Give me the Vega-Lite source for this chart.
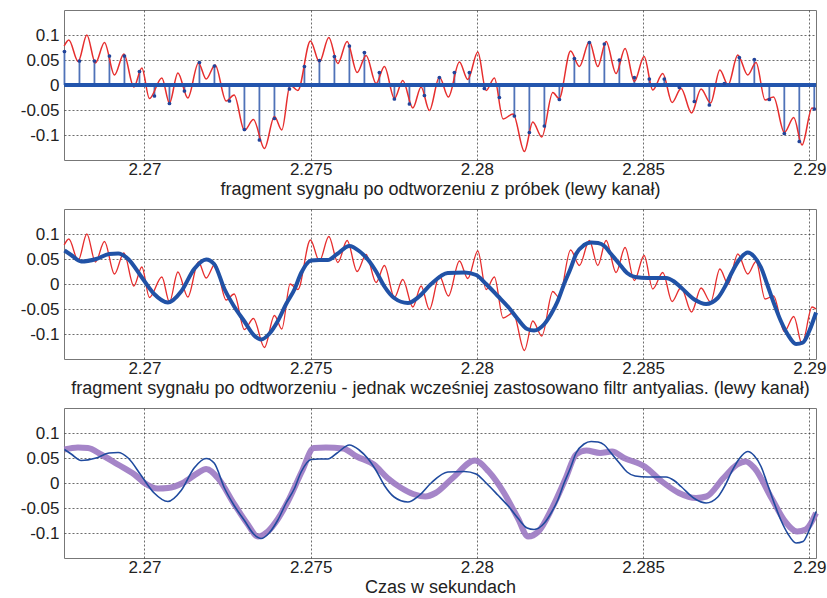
{
  "$schema": "https://vega.github.io/schema/vega-lite/v6.json",
  "padding": {"left": 19, "top": 9, "right": 0, "bottom": 0},
  "spacing": 9,
  "background": "white",
  "datasets": {
    "red": [
      {"t": 2.267585, "v": 0.078}, {"t": 2.267726, "v": 0.09}, {"t": 2.268006, "v": 0.047}, {"t": 2.268268, "v": 0.1},
      {"t": 2.268526, "v": 0.044}, {"t": 2.268797, "v": 0.085}, {"t": 2.269098, "v": 0.02}, {"t": 2.26938, "v": 0.062},
      {"t": 2.269681, "v": -0.004}, {"t": 2.269922, "v": 0.034}, {"t": 2.27015, "v": -0.027}, {"t": 2.270523, "v": 0.014},
      {"t": 2.270752, "v": -0.036}, {"t": 2.271005, "v": 0.024}, {"t": 2.271305, "v": -0.026}, {"t": 2.271624, "v": 0.044},
      {"t": 2.271856, "v": 0.012}, {"t": 2.272126, "v": 0.04}, {"t": 2.272457, "v": -0.032}, {"t": 2.272698, "v": -0.02},
      {"t": 2.273008, "v": -0.091}, {"t": 2.273278, "v": -0.069}, {"t": 2.273609, "v": -0.127}, {"t": 2.27391, "v": -0.063},
      {"t": 2.274132, "v": -0.09}, {"t": 2.274382, "v": 0.0}, {"t": 2.274614, "v": -0.011}, {"t": 2.274993, "v": 0.088},
      {"t": 2.275263, "v": 0.046}, {"t": 2.275546, "v": 0.095}, {"t": 2.275817, "v": 0.043}, {"t": 2.276096, "v": 0.087},
      {"t": 2.276397, "v": 0.025}, {"t": 2.276668, "v": 0.059}, {"t": 2.276968, "v": 0.003}, {"t": 2.277218, "v": 0.037},
      {"t": 2.277519, "v": -0.027}, {"t": 2.277771, "v": 0.009}, {"t": 2.278072, "v": -0.046}, {"t": 2.278322, "v": -0.004},
      {"t": 2.278571, "v": -0.051}, {"t": 2.278872, "v": 0.016}, {"t": 2.279143, "v": -0.024}, {"t": 2.279474, "v": 0.046},
      {"t": 2.279726, "v": 0.011}, {"t": 2.280027, "v": 0.066}, {"t": 2.280277, "v": -0.011}, {"t": 2.280526, "v": 0.014},
      {"t": 2.280788, "v": -0.068}, {"t": 2.281089, "v": -0.058}, {"t": 2.281429, "v": -0.133}, {"t": 2.281681, "v": -0.074},
      {"t": 2.281952, "v": -0.104}, {"t": 2.282283, "v": -0.015}, {"t": 2.282472, "v": -0.027}, {"t": 2.282818, "v": 0.068},
      {"t": 2.283083, "v": 0.037}, {"t": 2.283383, "v": 0.087}, {"t": 2.283636, "v": 0.037}, {"t": 2.283886, "v": 0.087},
      {"t": 2.284186, "v": 0.023}, {"t": 2.284457, "v": 0.073}, {"t": 2.284737, "v": 0.007}, {"t": 2.285029, "v": 0.057},
      {"t": 2.28529, "v": -0.01}, {"t": 2.285591, "v": 0.023}, {"t": 2.285871, "v": -0.035}, {"t": 2.286141, "v": -0.007},
      {"t": 2.286457, "v": -0.056}, {"t": 2.286743, "v": -0.008}, {"t": 2.287029, "v": -0.036}, {"t": 2.287308, "v": 0.03},
      {"t": 2.287555, "v": 0.0}, {"t": 2.287847, "v": 0.06}, {"t": 2.288147, "v": 0.02}, {"t": 2.288397, "v": 0.045},
      {"t": 2.288668, "v": -0.03}, {"t": 2.288923, "v": -0.024}, {"t": 2.289248, "v": -0.095}, {"t": 2.289531, "v": -0.065},
      {"t": 2.28978, "v": -0.12}, {"t": 2.290081, "v": -0.046}, {"t": 2.290202, "v": -0.05}
    ],
    "stems": [
      {"t": 2.267594, "v": 0.067}, {"t": 2.268045, "v": 0.048}, {"t": 2.268496, "v": 0.048}, {"t": 2.268947, "v": 0.058},
      {"t": 2.269398, "v": 0.058}, {"t": 2.26985, "v": 0.027}, {"t": 2.270301, "v": -0.022}, {"t": 2.270752, "v": -0.037},
      {"t": 2.271203, "v": -0.012}, {"t": 2.271654, "v": 0.045}, {"t": 2.272105, "v": 0.038}, {"t": 2.272556, "v": -0.032},
      {"t": 2.273007, "v": -0.089}, {"t": 2.273458, "v": -0.11}, {"t": 2.27391, "v": -0.067}, {"t": 2.274361, "v": -0.008},
      {"t": 2.274812, "v": 0.037}, {"t": 2.275263, "v": 0.049}, {"t": 2.275714, "v": 0.057}, {"t": 2.276165, "v": 0.078},
      {"t": 2.276616, "v": 0.065}, {"t": 2.277067, "v": 0.025}, {"t": 2.277518, "v": -0.028}, {"t": 2.27797, "v": -0.038},
      {"t": 2.278421, "v": -0.021}, {"t": 2.278872, "v": 0.015}, {"t": 2.279323, "v": 0.025}, {"t": 2.279774, "v": 0.025},
      {"t": 2.280225, "v": -0.007}, {"t": 2.280676, "v": -0.025}, {"t": 2.281127, "v": -0.062}, {"t": 2.281578, "v": -0.095},
      {"t": 2.28203, "v": -0.082}, {"t": 2.282481, "v": -0.029}, {"t": 2.282932, "v": 0.053}, {"t": 2.283383, "v": 0.085},
      {"t": 2.283834, "v": 0.082}, {"t": 2.284285, "v": 0.05}, {"t": 2.284736, "v": 0.015}, {"t": 2.285187, "v": 0.012},
      {"t": 2.285638, "v": 0.012}, {"t": 2.28609, "v": -0.005}, {"t": 2.286541, "v": -0.033}, {"t": 2.286992, "v": -0.04},
      {"t": 2.287443, "v": 0.003}, {"t": 2.287894, "v": 0.055}, {"t": 2.288345, "v": 0.051}, {"t": 2.288796, "v": -0.029},
      {"t": 2.289247, "v": -0.097}, {"t": 2.289698, "v": -0.113}, {"t": 2.290149, "v": -0.048}
    ],
    "blue": [
      {"t": 2.267594, "v": 0.067}, {"t": 2.267795, "v": 0.058}, {"t": 2.268096, "v": 0.045}, {"t": 2.268547, "v": 0.05},
      {"t": 2.268938, "v": 0.06}, {"t": 2.269209, "v": 0.061}, {"t": 2.26951, "v": 0.05}, {"t": 2.269901, "v": 0.015},
      {"t": 2.270292, "v": -0.02}, {"t": 2.270704, "v": -0.037}, {"t": 2.271104, "v": -0.015}, {"t": 2.271495, "v": 0.03},
      {"t": 2.271856, "v": 0.049}, {"t": 2.272096, "v": 0.04}, {"t": 2.272406, "v": -0.01}, {"t": 2.272698, "v": -0.045},
      {"t": 2.273008, "v": -0.075}, {"t": 2.273299, "v": -0.103}, {"t": 2.27351, "v": -0.111}, {"t": 2.27375, "v": -0.1},
      {"t": 2.274012, "v": -0.074}, {"t": 2.274262, "v": -0.04}, {"t": 2.274511, "v": -0.011}, {"t": 2.274713, "v": 0.022},
      {"t": 2.275014, "v": 0.047}, {"t": 2.275254, "v": 0.048}, {"t": 2.275516, "v": 0.048}, {"t": 2.275795, "v": 0.06},
      {"t": 2.276165, "v": 0.076}, {"t": 2.276457, "v": 0.066}, {"t": 2.276719, "v": 0.049}, {"t": 2.276968, "v": 0.025},
      {"t": 2.277218, "v": -0.005}, {"t": 2.27751, "v": -0.028}, {"t": 2.277922, "v": -0.038}, {"t": 2.278262, "v": -0.025},
      {"t": 2.278623, "v": 0.0}, {"t": 2.279125, "v": 0.022}, {"t": 2.279624, "v": 0.023}, {"t": 2.279976, "v": 0.018},
      {"t": 2.280277, "v": 0.0}, {"t": 2.280629, "v": -0.024}, {"t": 2.280968, "v": -0.048}, {"t": 2.28123, "v": -0.07},
      {"t": 2.28151, "v": -0.09}, {"t": 2.28172, "v": -0.093}, {"t": 2.28203, "v": -0.08}, {"t": 2.282232, "v": -0.06},
      {"t": 2.282433, "v": -0.034}, {"t": 2.282623, "v": 0.0}, {"t": 2.282812, "v": 0.03}, {"t": 2.282983, "v": 0.06},
      {"t": 2.283224, "v": 0.078}, {"t": 2.283435, "v": 0.083}, {"t": 2.283645, "v": 0.082}, {"t": 2.283835, "v": 0.076},
      {"t": 2.284036, "v": 0.06}, {"t": 2.284286, "v": 0.04}, {"t": 2.284517, "v": 0.022}, {"t": 2.284758, "v": 0.014},
      {"t": 2.28514, "v": 0.012}, {"t": 2.28569, "v": 0.012}, {"t": 2.285931, "v": 0.005}, {"t": 2.286141, "v": -0.007},
      {"t": 2.286541, "v": -0.031}, {"t": 2.286893, "v": -0.04}, {"t": 2.287245, "v": -0.028}, {"t": 2.287464, "v": -0.005},
      {"t": 2.287645, "v": 0.02}, {"t": 2.287886, "v": 0.048}, {"t": 2.288147, "v": 0.063}, {"t": 2.288337, "v": 0.055},
      {"t": 2.288547, "v": 0.033}, {"t": 2.288728, "v": 0.0}, {"t": 2.288947, "v": -0.041}, {"t": 2.289149, "v": -0.075},
      {"t": 2.28935, "v": -0.101}, {"t": 2.2896, "v": -0.12}, {"t": 2.28981, "v": -0.117}, {"t": 2.289991, "v": -0.095},
      {"t": 2.290202, "v": -0.057}
    ],
    "purple": [
      {"t": 2.267594, "v": 0.067}, {"t": 2.267997, "v": 0.071}, {"t": 2.268298, "v": 0.07}, {"t": 2.268698, "v": 0.057},
      {"t": 2.2692, "v": 0.037}, {"t": 2.269699, "v": 0.017}, {"t": 2.27, "v": 0.0}, {"t": 2.270403, "v": -0.011},
      {"t": 2.270704, "v": -0.01}, {"t": 2.271155, "v": 0.0}, {"t": 2.271606, "v": 0.02}, {"t": 2.271856, "v": 0.028},
      {"t": 2.272208, "v": 0.01}, {"t": 2.272707, "v": -0.043}, {"t": 2.27311, "v": -0.083}, {"t": 2.27341, "v": -0.107},
      {"t": 2.273711, "v": -0.097}, {"t": 2.274012, "v": -0.072}, {"t": 2.274313, "v": -0.037}, {"t": 2.274734, "v": 0.023},
      {"t": 2.275095, "v": 0.07}, {"t": 2.275456, "v": 0.071}, {"t": 2.275973, "v": 0.069}, {"t": 2.276385, "v": 0.053},
      {"t": 2.276899, "v": 0.037}, {"t": 2.277311, "v": 0.01}, {"t": 2.277726, "v": -0.01}, {"t": 2.278081, "v": -0.022},
      {"t": 2.278448, "v": -0.027}, {"t": 2.278755, "v": -0.02}, {"t": 2.279272, "v": 0.01}, {"t": 2.279943, "v": 0.045},
      {"t": 2.280355, "v": 0.023}, {"t": 2.280818, "v": -0.02}, {"t": 2.28123, "v": -0.07}, {"t": 2.28154, "v": -0.107},
      {"t": 2.28185, "v": -0.097}, {"t": 2.282262, "v": -0.05}, {"t": 2.282674, "v": 0.01}, {"t": 2.282983, "v": 0.057},
      {"t": 2.283293, "v": 0.065}, {"t": 2.283705, "v": 0.06}, {"t": 2.284066, "v": 0.063}, {"t": 2.284427, "v": 0.05},
      {"t": 2.285047, "v": 0.033}, {"t": 2.285564, "v": 0.003}, {"t": 2.286078, "v": -0.02}, {"t": 2.286592, "v": -0.03},
      {"t": 2.286902, "v": -0.027}, {"t": 2.287417, "v": 0.01}, {"t": 2.287829, "v": 0.037}, {"t": 2.288087, "v": 0.043},
      {"t": 2.288346, "v": 0.03}, {"t": 2.28886, "v": -0.03}, {"t": 2.289272, "v": -0.077}, {"t": 2.289633, "v": -0.097},
      {"t": 2.289892, "v": -0.093}, {"t": 2.290202, "v": -0.06}
    ]
  },
  "vconcat": [
    {
      "width": 752, "height": 150,
      "encoding": {
        "x": {"field": "t", "type": "quantitative", "scale": {"domain": [2.26758, 2.2902], "nice": false, "zero": false},
              "axis": {"values": [2.27, 2.275, 2.28, 2.285, 2.29], "labelExpr": "'' + datum.value", "title": "fragment sygnału po odtworzeniu z próbek (lewy kanał)"}},
        "y": {"field": "v", "type": "quantitative", "scale": {"domain": [-0.15, 0.15], "nice": false, "zero": false},
              "axis": {"values": [-0.1, -0.05, 0, 0.05, 0.1], "labelExpr": "'' + datum.value", "title": null}}
      },
      "layer": [
        {"data": {"name": "stems"}, "mark": {"type": "rule", "color": "#4f72b8", "strokeWidth": 1.8}, "encoding": {"y2": {"datum": 0}}},
        {"data": {"name": "red"}, "mark": {"type": "line", "interpolate": "monotone", "color": "#e62e2e", "strokeWidth": 1.5}},
        {"data": {"name": "red"}, "mark": {"type": "line", "color": "#2355ad", "strokeWidth": 4}, "encoding": {"y": {"datum": 0}}},
        {"data": {"name": "stems"}, "mark": {"type": "point", "filled": true, "color": "#23449a", "size": 14, "opacity": 1}}
      ]
    },
    {
      "width": 752, "height": 150,
      "encoding": {
        "x": {"field": "t", "type": "quantitative", "scale": {"domain": [2.26758, 2.2902], "nice": false, "zero": false},
              "axis": {"values": [2.27, 2.275, 2.28, 2.285, 2.29], "labelExpr": "'' + datum.value", "title": "fragment sygnału po odtworzeniu - jednak wcześniej zastosowano filtr antyalias. (lewy kanał)"}},
        "y": {"field": "v", "type": "quantitative", "scale": {"domain": [-0.15, 0.15], "nice": false, "zero": false},
              "axis": {"values": [-0.1, -0.05, 0, 0.05, 0.1], "labelExpr": "'' + datum.value", "title": null}}
      },
      "layer": [
        {"data": {"name": "red"}, "mark": {"type": "line", "interpolate": "monotone", "color": "#e62e2e", "strokeWidth": 1.3}},
        {"data": {"name": "blue"}, "mark": {"type": "line", "interpolate": "monotone", "color": "#2152a6", "strokeWidth": 4}}
      ]
    },
    {
      "width": 752, "height": 150,
      "encoding": {
        "x": {"field": "t", "type": "quantitative", "scale": {"domain": [2.26758, 2.2902], "nice": false, "zero": false},
              "axis": {"values": [2.27, 2.275, 2.28, 2.285, 2.29], "labelExpr": "'' + datum.value", "title": "Czas w sekundach"}},
        "y": {"field": "v", "type": "quantitative", "scale": {"domain": [-0.15, 0.15], "nice": false, "zero": false},
              "axis": {"values": [-0.1, -0.05, 0, 0.05, 0.1], "labelExpr": "'' + datum.value", "title": null}}
      },
      "layer": [
        {"data": {"name": "purple"}, "mark": {"type": "line", "interpolate": "monotone", "color": "#9b78c2", "strokeWidth": 6, "opacity": 0.9}},
        {"data": {"name": "blue"}, "mark": {"type": "line", "interpolate": "monotone", "color": "#1f4a9e", "strokeWidth": 1.6}}
      ]
    }
  ],
  "config": {
    "view": {"stroke": "#777777", "strokeWidth": 1},
    "axis": {
      "labelFont": "Liberation Sans", "labelFontSize": 17, "labelColor": "#222222",
      "titleFont": "Liberation Sans", "titleFontSize": 18, "titleFontWeight": "normal", "titleColor": "#222222",
      "grid": true, "gridColor": "#333333", "gridDash": [2, 2], "gridWidth": 0.8, "gridOpacity": 0.9,
      "domain": false, "ticks": false, "labelPadding": 1
    },
    "axisX": {"titlePadding": 3, "labelFlush": false},
    "axisY": {"labelPadding": 5}
  }
}
